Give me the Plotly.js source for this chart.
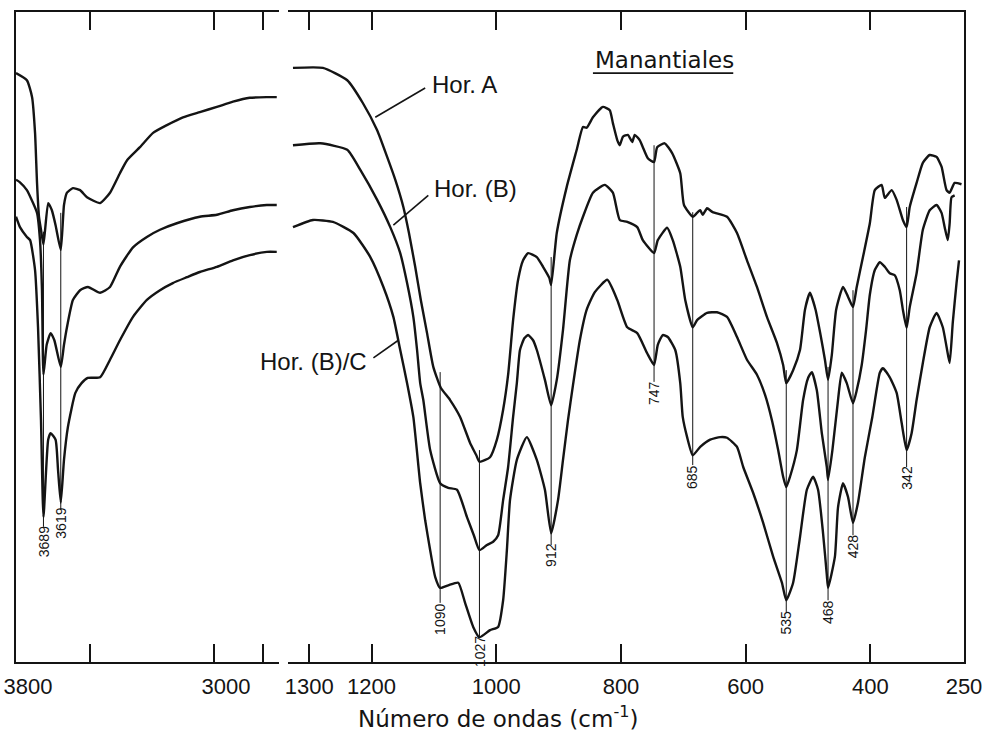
<!DOCTYPE html>
<html><head><meta charset="utf-8">
<script src="https://cdn.plot.ly/plotly-3.0.1.min.js"></script>
<style>html,body{margin:0;padding:0;background:#fff}#chart{width:985px;height:736px}</style>
</head><body><div id="chart"></div><script>
// ---------- Left panel (3800 - 2740 cm-1) ----------
const leftWnA = [3800,3756,3735,3723,3715,3707,3699,3689,3670,3655,3640,3619,3606,3594,3570,3541,3513,3460,3420,3380,3351,3299,3246,3190,3125,3057,2988,2923,2855,2786,2746];
const leftTA  = [90.6,89.5,86.9,81.4,73.7,68.5,66.5,64.2,70.6,69.5,67.2,63.4,70.3,72.2,72.9,72.6,71.5,70.6,72.2,75.2,77.2,79.2,81.4,82.6,83.8,84.6,85.4,86.2,86.8,86.9,86.9];

const leftWnB = [3800,3784,3756,3731,3715,3703,3695,3689,3676,3660,3645,3619,3606,3594,3570,3541,3509,3460,3420,3380,3327,3271,3218,3150,3057,2988,2923,2855,2786,2746];
const leftTB  = [74.2,73.8,72.6,70.6,69.1,64.9,57.2,44.2,48.8,50.6,49.5,45.4,48.8,51.5,55.7,57.2,57.7,56.8,57.7,60.8,63.8,65.4,66.5,67.5,68.5,68.8,69.5,70.0,70.3,70.3];

const leftWnC = [3800,3784,3756,3743,3723,3711,3699,3689,3670,3660,3640,3630,3619,3606,3590,3560,3535,3510,3460,3420,3380,3327,3271,3218,3166,3109,3057,2988,2923,2855,2786,2746];
const leftTC  = [68.5,66.9,65.4,64.9,60.3,51.5,37.2,22.3,34.2,35.2,34.2,29.5,24.5,31.1,36.2,41.4,42.9,43.7,43.8,46.5,49.5,53.1,55.7,57.2,58.3,59.2,60.0,60.8,61.8,62.6,63.1,63.1];

// ---------- Right panel (1330 - 250 cm-1) ----------
const rightWnA = [1326,1278,1239,1214,1191,1175,1162,1149,1140,1130,1121,1111,1101,1089,1074,1058,1042,1032,1027,1010,999,989,981,973,965,957,949,935,925,915,912,903,887,871,861,855,845,829,818,813,806,802,797,789,782,778,770,765,757,747,742,730,718,705,699,685,678,673,669,662,653,630,614,598,582,566,550,540,535,524,513,505,497,488,480,473,468,462,455,444,436,428,422,412,401,393,382,377,366,358,348,342,337,326,316,305,294,286,278,273,265,254];
const rightTA  = [91.4,91.4,89.5,86.0,81.8,77.7,74.2,70.0,66.0,60.8,55.7,50.6,45.4,42.2,40.3,37.7,33.7,31.8,30.8,31.5,34.2,38.8,44.2,52.6,58.8,61.8,62.9,62.3,60.8,59.1,58.0,66.0,73.1,78.8,82.3,82.2,83.8,85.4,84.9,82.9,80.3,79.5,80.8,81.1,80.0,81.1,80.3,79.2,77.5,76.9,79.2,79.8,78.3,75.2,70.3,68.5,69.1,69.5,68.8,69.8,69.2,68.5,66.0,61.8,57.7,53.1,49.1,45.7,42.9,44.9,48.0,54.2,56.8,54.2,50.3,46.5,43.4,47.2,54.2,57.7,56.2,54.6,57.7,62.3,67.5,72.6,73.4,71.4,72.6,71.1,68.0,66.9,70.0,73.7,76.8,78.0,77.7,76.2,72.6,72.2,73.7,73.5];

const rightWnB = [1326,1282,1239,1218,1191,1170,1154,1143,1133,1127,1122,1117,1106,1090,1077,1063,1047,1036,1027,1015,1005,997,989,981,973,967,962,955,949,941,935,922,912,903,893,882,871,861,845,826,813,802,790,774,765,747,741,726,717,705,697,685,678,662,646,630,614,598,582,569,558,548,540,535,529,518,508,500,494,486,478,470,468,461,452,446,438,428,422,414,407,401,393,385,377,369,361,353,348,342,337,326,316,305,294,286,281,276,273,270,265];
const rightTB  = [79.5,79.8,78.8,75.7,71.1,66.9,62.9,58.3,53.1,48.0,42.9,40.3,32.6,27.5,26.8,26.5,22.3,19.5,17.2,18.0,18.5,19.5,24.9,30.0,37.7,42.9,48.0,49.8,50.3,49.5,48.0,43.4,39.5,43.4,51.1,61.8,65.7,68.5,72.2,73.4,72.2,68.0,67.7,66.9,64.9,62.9,64.9,66.8,64.9,60.8,55.7,51.5,52.6,53.7,53.8,53.1,50.0,46.5,44.2,41.1,37.2,32.6,28.5,26.9,28.5,32.6,40.3,43.7,44.6,41.8,35.2,30.0,28.0,32.6,40.3,44.5,42.9,39.8,41.8,45.7,51.1,56.5,60.3,61.5,60.8,59.8,59.5,57.2,54.2,51.4,54.6,59.8,66.5,69.5,70.3,69.1,66.9,64.9,67.5,71.5,71.8];

const rightWnC = [1326,1294,1262,1229,1202,1181,1165,1154,1143,1133,1122,1114,1106,1098,1090,1077,1061,1050,1037,1027,1010,997,989,983,978,967,951,935,922,912,901,893,885,877,866,855,842,822,806,790,774,758,747,741,733,725,713,705,701,694,685,673,657,641,630,614,604,588,572,556,542,535,524,513,502,492,484,476,470,468,457,452,444,436,428,420,409,397,385,380,369,358,350,342,334,326,316,305,294,284,278,273,268,262,258];
const rightTC  = [66.9,68.0,67.7,66.0,62.3,57.7,53.1,48.0,42.9,37.7,27.5,21.8,17.2,13.1,11.4,11.8,12.2,9.1,5.4,3.8,4.9,5.4,9.5,17.2,24.9,31.1,34.6,31.1,26.5,19.8,24.9,31.1,37.2,42.6,49.5,54.2,56.9,58.8,55.7,51.5,50.6,47.5,45.7,48.8,50.3,50.0,48.0,42.9,37.7,34.6,31.8,33.1,34.2,34.6,34.5,33.1,30.0,26.0,21.4,16.2,12.2,9.5,12.2,19.2,26.5,28.5,26.5,19.8,13.4,11.4,16.2,23.8,27.5,25.4,21.4,24.5,31.5,37.7,44.5,45.2,43.8,41.4,36.8,32.6,35.2,40.3,46.0,51.5,53.7,51.5,48.5,46.0,52.2,58.3,61.8];

// ---------- Band assignments (peak marker lines) ----------
const peaksLeft      = [3689, 3619];
const peaksLeftTop   = [66.2, 69.1];
const peaksLeftBot   = [20.8, 23.4];
const peaksLeftLbl   = [18.5, 21.4];
const peaksRight     = [1090, 1027, 912, 747, 685, 535, 468, 428, 342];
const peaksRightTop  = [44.6, 32.6, 62.3, 79.5, 69.2, 44.9, 45.4, 57.2, 70.0];
const peaksRightBot  = [9.1, 3.8, 18.0, 43.1, 30.3, 7.7, 9.5, 19.5, 30.0];
const peaksRightLbl  = [6.5, 1.6, 16.5, 41.4, 28.4, 6.1, 7.7, 17.8, 28.3];

// ---------- Axis ticks ----------
const leftTickVals   = [3800, 3000];
const leftTickText   = ['3800', '3000'];
const leftMinorVals  = [3500, 2800];
const rightTickVals  = [1300, 1200, 1000, 800, 600, 400, 250];
const rightTickText  = ['1300', '1200', '1000', '800', '600', '400', '250'];

const INK = '#141414';
const traces = [];
function curve(xs, ys, xa, ya) {
  traces.push({x: xs, y: ys, xaxis: xa, yaxis: ya, type: 'scatter', mode: 'lines',
    line: {color: INK, width: 2.4, shape: 'spline', smoothing: 0.5},
    hoverinfo: 'skip', showlegend: false});
}
curve(leftWnA, leftTA, 'x', 'y');
curve(leftWnB, leftTB, 'x', 'y');
curve(leftWnC, leftTC, 'x', 'y');
curve(rightWnA, rightTA, 'x2', 'y2');
curve(rightWnB, rightTB, 'x2', 'y2');
curve(rightWnC, rightTC, 'x2', 'y2');

function markers(p, top, bot, xa, ya) {
  const xs = [], ys = [];
  p.forEach((v, i) => { xs.push(v, v, null); ys.push(top[i], bot[i], null); });
  traces.push({x: xs, y: ys, xaxis: xa, yaxis: ya, type: 'scatter', mode: 'lines',
    line: {color: INK, width: 1}, hoverinfo: 'skip', showlegend: false});
}
markers(peaksLeft, peaksLeftTop, peaksLeftBot, 'x', 'y');
markers(peaksRight, peaksRightTop, peaksRightBot, 'x2', 'y2');

const numFont = {family: '"Liberation Sans Narrow", "Arial Narrow", "Liberation Sans", Arial, sans-serif', color: INK};
const annotations = [];
peaksLeft.forEach((v, i) => annotations.push({x: v, y: peaksLeftLbl[i], xref: 'x', yref: 'y', text: String(v),
  textangle: -90, showarrow: false, xanchor: 'center', yanchor: 'middle', font: Object.assign({size: 14}, numFont)}));
peaksRight.forEach((v, i) => annotations.push({x: v, y: peaksRightLbl[i], xref: 'x2', yref: 'y2', text: String(v),
  textangle: -90, showarrow: false, xanchor: 'center', yanchor: 'middle', font: Object.assign({size: 14}, numFont)}));

const horFont = {family: '"Liberation Sans", Arial, sans-serif', size: 24, color: INK};
annotations.push({x: 1106, y: 88.8, xref: 'x2', yref: 'y2', text: 'Hor. A', showarrow: false, xanchor: 'left', yanchor: 'middle', font: horFont});
annotations.push({x: 1103, y: 72.9, xref: 'x2', yref: 'y2', text: 'Hor. (B)', showarrow: false, xanchor: 'left', yanchor: 'middle', font: horFont});
annotations.push({x: 1204, y: 46.2, xref: 'x2', yref: 'y2', text: 'Hor. (B)/C', showarrow: false, xanchor: 'right', yanchor: 'middle', font: horFont});

const roundFont = {family: '"DejaVu Sans", "Noto Sans", sans-serif', color: INK};
annotations.push({x: 845, y: 92.6, xref: 'x2', yref: 'y2', text: 'Manantiales', showarrow: false, xanchor: 'left', yanchor: 'middle', font: Object.assign({size: 23}, roundFont)});
annotations.push({x: 0.508, y: -0.085, xref: 'paper', yref: 'paper', text: 'Número de ondas (cm<sup>-1</sup>)', showarrow: false, xanchor: 'center', yanchor: 'middle', font: Object.assign({size: 23}, roundFont)});

const shapes = [
  {type: 'line', xref: 'x2', yref: 'y2', x0: 1114, y0: 88.3, x1: 1194, y1: 83.8, line: {color: INK, width: 1.6}},
  {type: 'line', xref: 'x2', yref: 'y2', x0: 1109, y0: 71.8, x1: 1165, y1: 67.2, line: {color: INK, width: 1.6}},
  {type: 'line', xref: 'x2', yref: 'y2', x0: 1197, y0: 46.8, x1: 1157, y1: 49.5, line: {color: INK, width: 1.6}},
  {type: 'line', xref: 'x2', yref: 'y2', x0: 845, y0: 90.6, x1: 620, y1: 90.6, line: {color: INK, width: 1.6}}
];

const axisCommon = {ticks: 'inside', ticklen: 18, tickwidth: 2, tickcolor: INK, showline: true, linewidth: 2,
  linecolor: INK, mirror: 'ticks', showgrid: false, zeroline: false, tickmode: 'array',
  tickfont: Object.assign({size: 22}, numFont), ticklabelstandoff: 4};

const layout = {
  width: 985, height: 736, margin: {l: 16, r: 21, t: 12, b: 74},
  paper_bgcolor: '#ffffff', plot_bgcolor: '#ffffff', showlegend: false,
  xaxis: Object.assign({}, axisCommon, {domain: [0, 0.2774], range: [3800, 2737], anchor: 'y',
    tickvals: leftTickVals, ticktext: leftTickText, ticklabelshift: -12,
    minor: {tickmode: 'array', tickvals: leftMinorVals, ticks: 'inside', ticklen: 18, tickwidth: 2, tickcolor: INK, showgrid: false}}),
  xaxis2: Object.assign({}, axisCommon, {domain: [0.2869, 1], range: [1334, 250], anchor: 'y2',
    tickvals: rightTickVals, ticktext: rightTickText}),
  yaxis: {domain: [0, 1], range: [0, 100], anchor: 'x', showline: true, linewidth: 2, linecolor: INK,
    showticklabels: false, ticks: '', showgrid: false, zeroline: false},
  yaxis2: {domain: [0, 1], range: [0, 100], anchor: 'x2', side: 'right', showline: true, linewidth: 2, linecolor: INK,
    showticklabels: false, ticks: '', showgrid: false, zeroline: false},
  annotations: annotations, shapes: shapes
};

Plotly.newPlot('chart', traces, layout, {staticPlot: true, displayModeBar: false});
</script></body></html>
